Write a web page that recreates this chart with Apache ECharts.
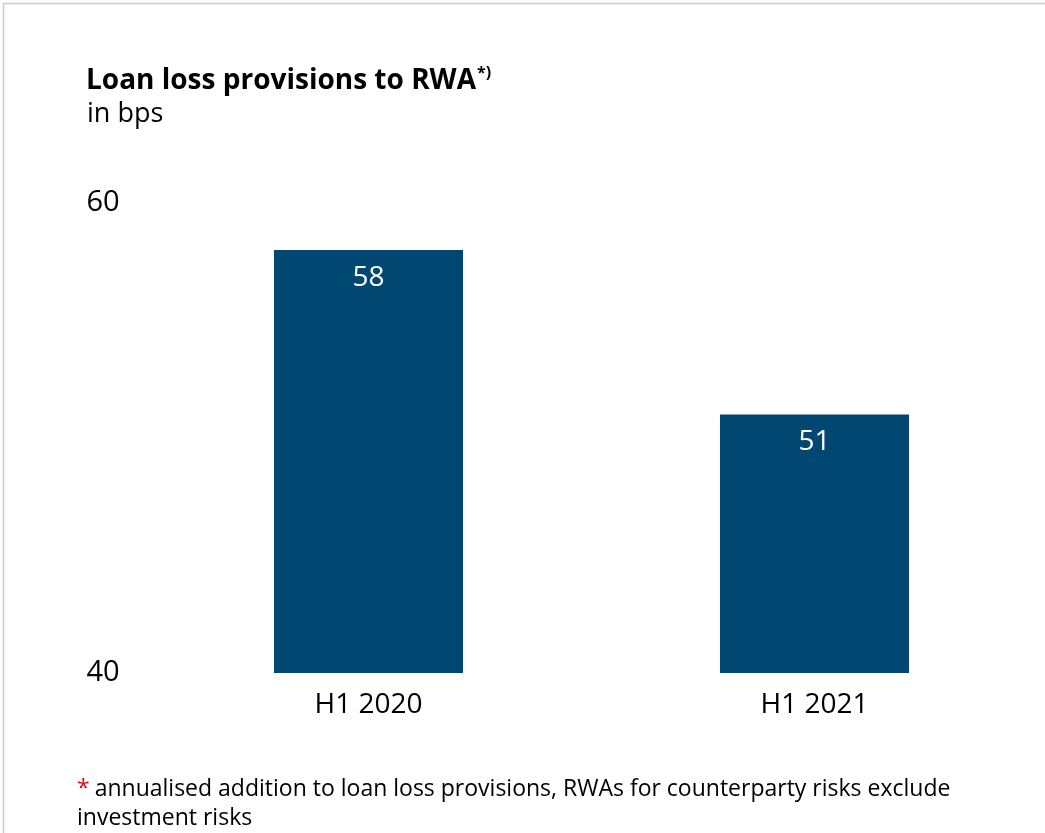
<!DOCTYPE html>
<html>
<head>
<meta charset="utf-8">
<script src="https://cdn.jsdelivr.net/npm/echarts@6/dist/echarts.min.js"></script>
<style>
  html, body { margin: 0; padding: 0; background: #fff; }
  #chart { width: 1045px; height: 833px; }
</style>
</head>
<body>
<div id="chart"></div>
<script>
// Loan loss provisions relative to risk-weighted assets, half-year figures
const categories = ['H1 2020', 'H1 2021'];
const provisionsBps = [58, 51];
const yTicks = [40, 60];

const FONT = '"Open Sans", "Noto Sans", sans-serif';
const BAR_COLOR = '#004771';

const chart = echarts.init(document.getElementById('chart'), null, { renderer: 'canvas' });

chart.setOption({
  backgroundColor: '#ffffff',
  animation: false,
  title: [{
    text: '{t|Loan loss provisions to RWA}{s|*)}',
    left: 86,
    top: 65,
    padding: 0,
    textStyle: {
      rich: {
        t: { fontFamily: FONT, fontWeight: 'bold', fontSize: 28, color: '#000' },
        s: { fontFamily: FONT, fontWeight: 'bold', fontSize: 16, color: '#000', verticalAlign: 'top', padding: [0, 0, 16, 1] }
      }
    }
  }, {
    text: 'in bps',
    left: 87,
    top: 101,
    padding: 0,
    textStyle: { fontFamily: FONT, fontWeight: 'normal', fontSize: 27, color: '#000' }
  }, {
    text: '{r|*} {t|annualised addition to loan loss provisions, RWAs for counterparty risks exclude}\n{t|investment risks}',
    left: 77,
    top: 775,
    padding: 0,
    textStyle: {
      fontWeight: 'normal',
      rich: {
        r: { fontFamily: FONT, fontWeight: 'normal', fontSize: 23, color: '#e30613', lineHeight: 29 },
        t: { fontFamily: FONT, fontWeight: 'normal', fontSize: 23, color: '#000', lineHeight: 29 }
      }
    }
  }],
  graphic: [{
    type: 'rect',
    shape: { x: 3.5, y: 3.5, width: 1100, height: 900 },
    style: { fill: 'none', stroke: '#cccccc', lineWidth: 1.5 },
    silent: true
  }],
  grid: { left: 145.5, right: 7.5, top: 203, bottom: 160, containLabel: false },
  xAxis: {
    type: 'category',
    data: categories,
    axisLine: { show: false },
    axisTick: { show: false },
    axisLabel: { fontFamily: FONT, fontSize: 28, color: '#000', margin: 18 }
  },
  yAxis: {
    type: 'value',
    min: yTicks[0],
    max: yTicks[yTicks.length - 1],
    interval: yTicks[1] - yTicks[0],
    splitLine: { show: false },
    axisLine: { show: false },
    axisTick: { show: false },
    axisLabel: { fontFamily: FONT, fontSize: 29, color: '#000', align: 'left', margin: 59 }
  },
  series: [{
    type: 'bar',
    data: provisionsBps,
    barWidth: 189,
    itemStyle: { color: BAR_COLOR },
    label: {
      show: true,
      position: 'insideTop',
      distance: 14,
      fontFamily: FONT,
      fontSize: 28,
      color: '#fff'
    }
  }]
});
</script>
</body>
</html>
